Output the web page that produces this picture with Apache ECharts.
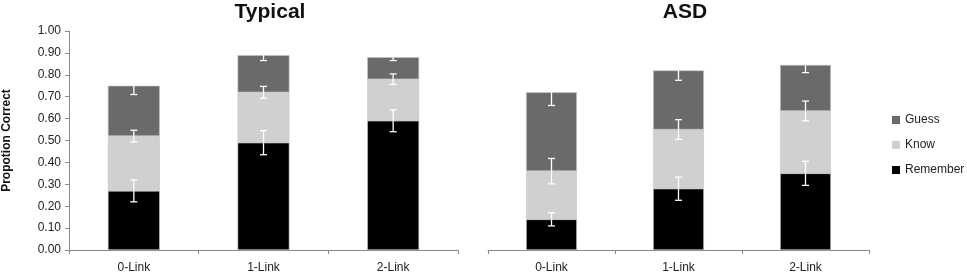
<!DOCTYPE html>
<html><head><meta charset="utf-8">
<script src="https://cdn.jsdelivr.net/npm/echarts@6/dist/echarts.min.js"></script>
<style>html,body{margin:0;padding:0;background:#fff}#c{width:967px;height:274px}</style>
</head><body><div id="c"></div>
<script>
const categories = ['0-Link', '1-Link', '2-Link'];
const yTicks = ['0.00','0.10','0.20','0.30','0.40','0.50','0.60','0.70','0.80','0.90','1.00'];
// Typical group (segment values)
const typRemember = [0.27, 0.49, 0.59];
const typKnow     = [0.25, 0.23, 0.19];
const typGuess    = [0.23, 0.17, 0.10];
const typRememberErr = [0.05, 0.055, 0.05];
const typKnowErr     = [0.027, 0.027, 0.024];
const typGuessErr    = [0.04, 0.025, 0.015];
// ASD group
const asdRemember = [0.14, 0.28, 0.35];
const asdKnow     = [0.22, 0.27, 0.285];
const asdGuess    = [0.36, 0.27, 0.21];
const asdRememberErr = [0.03, 0.053, 0.055];
const asdKnowErr     = [0.058, 0.045, 0.045];
const asdGuessErr    = [0.06, 0.045, 0.035];

const colors = {Remember:'#000000', Know:'#d0d0d0', Guess:'#6a6a6a'};
const font = 'Liberation Sans, Arial, sans-serif';

function cum(a, b) { return a.map((v, i) => v + (b ? b[i] : 0)); }

function barSeries(name, data, idx, stack) {
  return {
    name: name, type: 'bar', stack: stack, xAxisIndex: idx, yAxisIndex: idx,
    data: data, barWidth: '40%',
    itemStyle: {color: colors[name], borderColor: '#c4c4c4', borderWidth: 0.6},
    silent: true
  };
}
function errSeries(tops, errs, idx) {
  return {
    type: 'custom', xAxisIndex: idx, yAxisIndex: idx, silent: true, z: 10,
    data: tops.map((t, i) => [i, t, errs[i]]),
    renderItem: function (params, api) {
      const x = api.value(0), t = api.value(1), e = api.value(2);
      const hi = api.coord([x, t + e]), lo = api.coord([x, t - e]);
      const cw = 3.5;
      const st = {stroke: '#ffffff', lineWidth: 1.3};
      return {type: 'group', children: [
        {type: 'line', shape: {x1: hi[0], y1: hi[1], x2: lo[0], y2: lo[1]}, style: st},
        {type: 'line', shape: {x1: hi[0]-cw, y1: hi[1], x2: hi[0]+cw, y2: hi[1]}, style: st},
        {type: 'line', shape: {x1: lo[0]-cw, y1: lo[1], x2: lo[0]+cw, y2: lo[1]}, style: st}
      ]};
    }
  };
}

const tR = typRemember, tK = cum(typRemember, typKnow), tG = cum(tK, typGuess);
const aR = asdRemember, aK = cum(asdRemember, asdKnow), aG = cum(aK, asdGuess);

const xAxisBase = {
  type: 'category', data: categories,
  axisLine: {lineStyle: {color: '#8a8a8a', width: 1}},
  axisTick: {show: true, length: 4, lineStyle: {color: '#8a8a8a'}},
  axisLabel: {color: '#222', fontSize: 12, fontFamily: font, margin: 12}
};

const chart = echarts.init(document.getElementById('c'), null, {renderer: 'canvas'});
chart.setOption({
  animation: false,
  backgroundColor: '#fff',
  title: [
    {text: 'Typical', left: 265, top: -3, textAlign: 'center', textStyle: {fontSize: 21, fontWeight: 'bold', fontFamily: font, color: '#111'}},
    {text: 'ASD', left: 680, top: -3, textAlign: 'center', textStyle: {fontSize: 21, fontWeight: 'bold', fontFamily: font, color: '#111'}}
  ],
  legend: {
    orient: 'vertical', left: 887, top: 109, itemWidth: 8, itemHeight: 8, itemGap: 13,
    icon: 'rect', data: ['Guess', 'Know', 'Remember'],
    itemStyle: {borderWidth: 0},
    textStyle: {fontSize: 12, fontFamily: font, color: '#222'}
  },
  grid: [
    {left: 68, top: 31, width: 390, height: 219},
    {left: 488, top: 31, width: 381, height: 219}
  ],
  xAxis: [
    Object.assign({gridIndex: 0}, xAxisBase),
    Object.assign({gridIndex: 1}, xAxisBase)
  ],
  yAxis: [
    {gridIndex: 0, type: 'value', min: 0, max: 1, interval: 0.1,
     name: 'Propotion Correct', nameLocation: 'middle', nameGap: 56, nameRotate: 90,
     nameTextStyle: {fontSize: 12, fontWeight: 'bold', fontFamily: font, color: '#111'},
     axisLine: {show: true, lineStyle: {color: '#8a8a8a'}},
     axisTick: {show: true, length: 4, lineStyle: {color: '#8a8a8a'}},
     splitLine: {show: false},
     axisLabel: {color: '#222', fontSize: 12, fontFamily: font, margin: 8,
       formatter: function (v) { return yTicks[Math.round(v * 10)]; }}},
    {gridIndex: 1, type: 'value', min: 0, max: 1, interval: 0.1, show: false, splitLine: {show: false}}
  ],
  series: [
    barSeries('Remember', typRemember, 0, 'typ'),
    barSeries('Know', typKnow, 0, 'typ'),
    barSeries('Guess', typGuess, 0, 'typ'),
    barSeries('Remember', asdRemember, 1, 'asd'),
    barSeries('Know', asdKnow, 1, 'asd'),
    barSeries('Guess', asdGuess, 1, 'asd'),
    errSeries(tR, typRememberErr, 0),
    errSeries(tK, typKnowErr, 0),
    errSeries(tG, typGuessErr, 0),
    errSeries(aR, asdRememberErr, 1),
    errSeries(aK, asdKnowErr, 1),
    errSeries(aG, asdGuessErr, 1)
  ]
});
</script></body></html>
